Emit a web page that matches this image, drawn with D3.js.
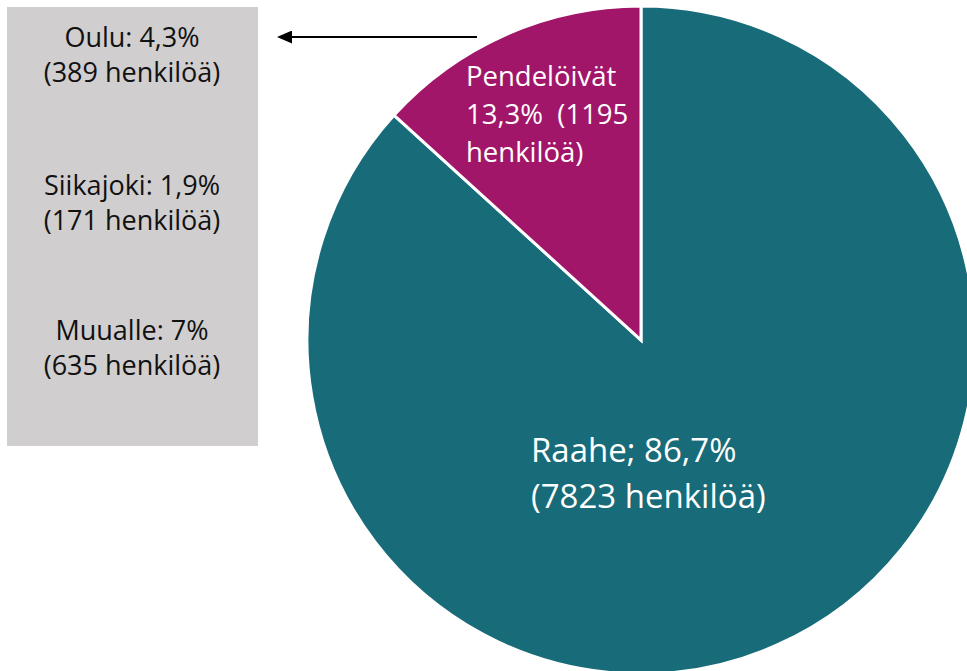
<!DOCTYPE html>
<html>
<head>
<meta charset="utf-8">
<script src="https://cdn.jsdelivr.net/npm/d3@7"></script>
<style>
  body { margin: 0; background: #fff; }
  svg { display: block; font-family: "Open Sans", "Liberation Sans", sans-serif; }
</style>
</head>
<body>
<svg id="chart" width="967" height="671"></svg>
<script>
// slices, in drawing order clockwise from 12 o'clock
const sliceNames = ['Raahe', 'Pendelöivät'];
const slicePeople = [7823, 1195];
const slicePercent = ['86,7%', '13,3%'];
const sliceColors = ['#186b78', '#a2166a'];

// breakdown of the commuters (grey box)
const destNames = ['Oulu', 'Siikajoki', 'Muualle'];
const destPercent = ['4,3%', '1,9%', '7%'];
const destPeople = [389, 171, 635];

const svg = d3.select('#chart');
const cx = 641, cy = 340, r = 334;

const pie = d3.pie().sort(null).value(d => d.people);
const slices = pie(sliceNames.map((name, i) => ({
  name, people: slicePeople[i], pct: slicePercent[i], color: sliceColors[i]
})));

const arc = d3.arc().innerRadius(0).outerRadius(r);

const g = svg.append('g').attr('transform', `translate(${cx},${cy})`);
g.selectAll('path')
  .data(slices)
  .join('path')
  .attr('d', arc)
  .attr('fill', d => d.data.color)
  .attr('stroke', '#fff')
  .attr('stroke-width', 3)
  .attr('stroke-linejoin', 'miter');

// Raahe label
const raahe = svg.append('text')
  .attr('fill', '#fff')
  .attr('font-size', 33);
raahe.append('tspan').attr('x', 531).attr('y', 462)
  .text(`${slices[0].data.name}; ${slices[0].data.pct}`);
raahe.append('tspan').attr('x', 531).attr('y', 508)
  .text(`(${slices[0].data.people} henkilöä)`);

// Pendelöivät label
const pend = svg.append('text')
  .attr('fill', '#fff')
  .attr('font-size', 27.5);
pend.append('tspan').attr('x', 466).attr('y', 86).text(slices[1].data.name);
pend.append('tspan').attr('x', 466).attr('y', 124)
  .style('white-space', 'pre')
  .text(`${slices[1].data.pct}  (${slices[1].data.people}`);
pend.append('tspan').attr('x', 466).attr('y', 162).text('henkilöä)');

// grey box
svg.append('rect')
  .attr('x', 7).attr('y', 7)
  .attr('width', 251).attr('height', 439)
  .attr('fill', '#d0cece');

const boxY = [47, 195, 340];
destNames.forEach((name, i) => {
  const t = svg.append('text')
    .attr('text-anchor', 'middle')
    .attr('fill', '#111')
    .attr('font-size', 27);
  t.append('tspan').attr('x', 132).attr('y', boxY[i]).text(`${name}: ${destPercent[i]}`);
  t.append('tspan').attr('x', 132).attr('y', boxY[i] + 35).text(`(${destPeople[i]} henkilöä)`);
});

// arrow pointing at the box
svg.append('defs').append('marker')
  .attr('id', 'head')
  .attr('viewBox', '0 0 10 10')
  .attr('refX', 8).attr('refY', 5)
  .attr('markerWidth', 7.5).attr('markerHeight', 6.5)
  .attr('orient', 'auto')
  .attr('preserveAspectRatio', 'none')
  .append('path')
  .attr('d', 'M0,0 L10,5 L0,10 Z')
  .attr('fill', '#000');

svg.append('line')
  .attr('x1', 477).attr('y1', 37)
  .attr('x2', 280).attr('y2', 37)
  .attr('stroke', '#000')
  .attr('stroke-width', 2)
  .attr('marker-end', 'url(#head)');
</script>
</body>
</html>
